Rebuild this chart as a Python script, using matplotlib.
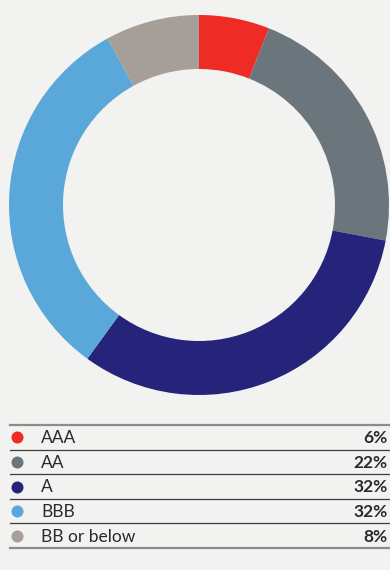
import matplotlib.pyplot as plt

plt.rcParams['font.family'] = ['Lato', 'DejaVu Sans']

ratings = ['AAA', 'AA', 'A', 'BBB', 'BB or below']
shares = [6, 22, 32, 32, 8]
colours = ['#ee2b24', '#6a757c', '#25247a', '#5aa7d9', '#a59e99']

bg = '#f2f2f0'
W, H = 390, 570

fig = plt.figure(figsize=(W / 100, H / 100), dpi=100, facecolor=bg)

# donut
cx, cy, r = 199, 205, 190
ax = fig.add_axes([(cx - r) / W, (H - cy - r) / H, 2 * r / W, 2 * r / H])
ax.set_facecolor(bg)
ax.pie(shares, colors=colours, startangle=90, counterclock=False, radius=1,
       wedgeprops=dict(width=54 / 190, linewidth=0))
ax.set_xlim(-1, 1)
ax.set_ylim(-1, 1)
ax.set_aspect('equal')
ax.axis('off')

# legend table
top, bottom, left, right = 425, 548, 10, 389
lg = fig.add_axes([left / W, (H - bottom) / H, (right - left) / W, (bottom - top) / H])
lg.set_xlim(left, right)
lg.set_ylim(len(ratings), 0)
lg.axis('off')
lg.patch.set_alpha(0)

for i in range(len(ratings) + 1):
    edge = i in (0, len(ratings))
    lg.axhline(i, color='#8c8c8c' if edge else '#3c3c3c',
               lw=1.6 if edge else 0.9, clip_on=False)

for i, (name, val, c) in enumerate(zip(ratings, shares, colours)):
    y = i + 0.5
    lg.scatter(17, y, s=75, color=c, linewidths=0, clip_on=False)
    lg.text(41, y + 0.04, name, va='center', ha='left', fontsize=12.5,
            color='#2a2a2a')
    lg.text(388, y + 0.04, f'{val}%', va='center', ha='right', fontsize=12.5,
            fontweight='bold', color='#2a2a2a')

fig.savefig('out.png', dpi=100, facecolor=bg)
